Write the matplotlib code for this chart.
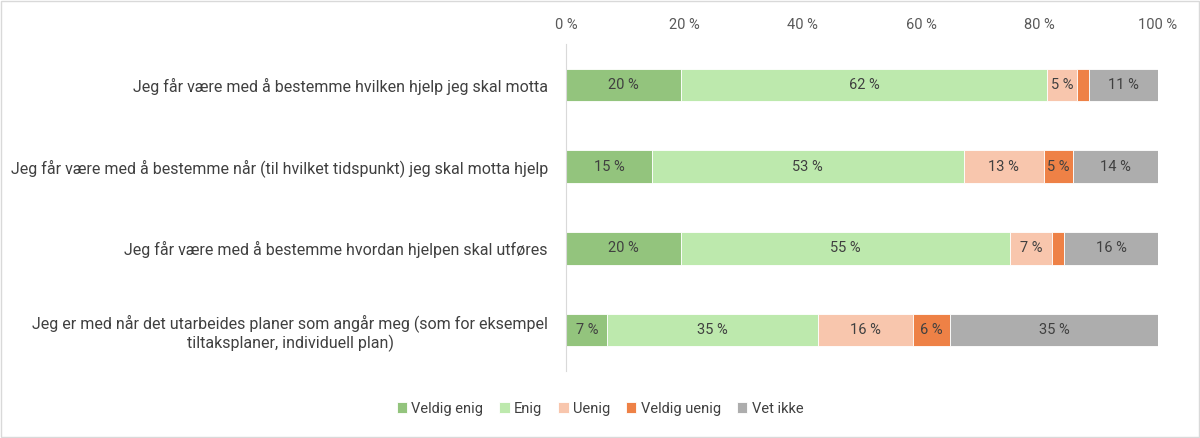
import matplotlib.pyplot as plt
from matplotlib.patches import Rectangle
import numpy as np

plt.rcParams['font.family'] = ['Liberation Sans Narrow', 'Roboto', 'DejaVu Sans']

categories = [
    "Jeg får være med å bestemme hvilken hjelp jeg skal motta",
    "Jeg får være med å bestemme når (til hvilket tidspunkt) jeg skal motta hjelp",
    "Jeg får være med å bestemme hvordan hjelpen skal utføres",
    "Jeg er med når det utarbeides planer som angår meg (som for eksempel\ntiltaksplaner, individuell plan)",
]
series_names = ["Veldig enig", "Enig", "Uenig", "Veldig uenig", "Vet ikke"]
veldig_enig = [19.5, 14.5, 19.5, 7.0]
enig = [61.7, 52.7, 55.5, 35.6]
uenig = [5.2, 13.5, 7.1, 16.0]
veldig_uenig = [2.0, 5.0, 2.0, 6.3]
vet_ikke = [11.6, 14.3, 15.9, 35.1]
shown = [[20, 15, 20, 7], [62, 53, 55, 35], [5, 13, 7, 16], [2, 5, 2, 6], [11, 14, 16, 35]]
colors = ["#93c47d", "#bde9ad", "#f8c6ad", "#ee8146", "#adadad"]

values = [veldig_enig, enig, uenig, veldig_uenig, vet_ikke]

fig = plt.figure(figsize=(12, 4.38), dpi=100)
ax = fig.add_axes([0.4717, 0.153, 0.4933, 0.7465])

y = np.arange(len(categories))
left = np.zeros(len(categories))
for name, vals, lab, col in zip(series_names, values, shown, colors):
    vals = np.array(vals)
    bars = ax.barh(y, vals, left=left, height=0.4, color=col, label=name,
                   edgecolor="white", linewidth=0.6)
    for b, v, l in zip(bars, vals, lab):
        if l >= 4:
            ax.text(b.get_x() + b.get_width() / 2, b.get_y() + b.get_height() / 2,
                    f"{l} %", ha="center", va="center", fontsize=10.5, color="#404040")
    left += vals

ax.set_xlim(0, 100)
ax.set_ylim(len(categories) - 0.5, -0.5)
ax.set_yticks(y)
ax.set_yticklabels(categories, fontsize=11.5, color="#404040", multialignment="center")
ax.set_xticks(np.arange(0, 101, 20))
ax.set_xticklabels([f"{t} %" for t in range(0, 101, 20)], fontsize=10.5, color="#595959")
ax.xaxis.tick_top()
ax.tick_params(axis="both", length=0)
ax.tick_params(axis="y", pad=13)
ax.tick_params(axis="x", pad=9)
for s in ["top", "right", "bottom"]:
    ax.spines[s].set_visible(False)
ax.spines["left"].set_color("#d9d9d9")

fig.legend(loc="center", bbox_to_anchor=(0.5, 0.067), ncol=5, frameon=False,
           fontsize=10.5, handlelength=0.7, handleheight=0.7, handletextpad=0.3,
           columnspacing=1.1, labelcolor="#404040")

fig.patches.append(Rectangle((0.001, 0.002), 0.998, 0.996, transform=fig.transFigure,
                             fill=False, edgecolor="#d9d9d9", linewidth=1))

fig.savefig("out.png", dpi=100)
